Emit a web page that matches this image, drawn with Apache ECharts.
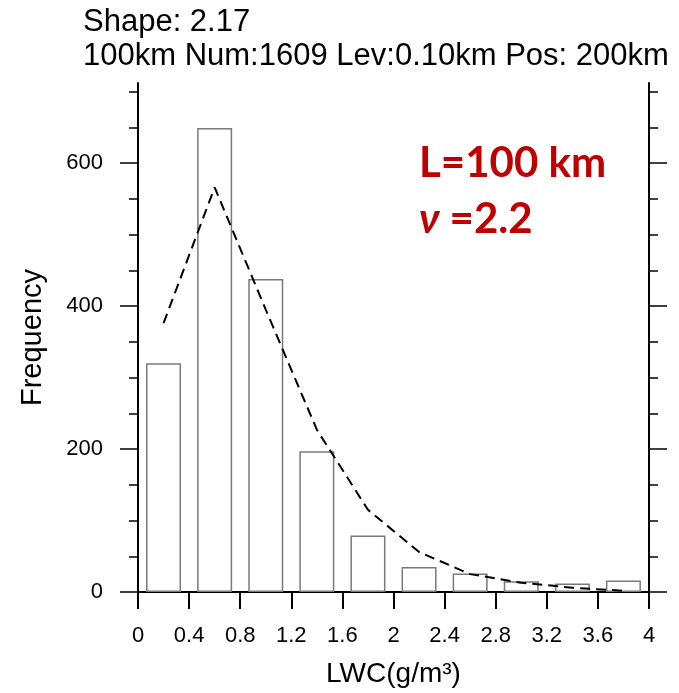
<!DOCTYPE html>
<html>
<head>
<meta charset="utf-8">
<script src="https://cdn.jsdelivr.net/npm/echarts@6/dist/echarts.min.js"></script>
<style>
html,body{margin:0;padding:0;background:#fff;}
#chart{width:679px;height:693px;}
</style>
</head>
<body>
<div id="chart"></div>
<script>
// ---- data ----
var binCenters = [0.2, 0.6, 1.0, 1.4, 1.8, 2.2, 2.6, 3.0, 3.4, 3.8];
var barCounts = [320, 649, 438, 197, 79, 35, 26, 15, 12, 16];
var fitValues = [376, 566, 395, 227, 115, 56, 25, 13, 6, 1.7];
var yMajorTicks = [0, 200, 400, 600];
var yMinorTicks = [0, 50, 100, 150, 200, 250, 300, 350, 400, 450, 500, 550, 600, 650, 700];
var titleLine1 = 'Shape: 2.17';
var titleLine2 = '100km Num:1609 Lev:0.10km Pos: 200km';
var noteLine1 = 'L=100 km';
var noteNu = 'ν';
var noteLine2 = ' =2.2';
var xName = 'LWC(g/m³)';
var yName = 'Frequency';

var barData = binCenters.map(function (x, i) { return [x, barCounts[i]]; });
var lineData = binCenters.map(function (x, i) { return [x, fitValues[i]]; });

var FONT = '"Liberation Sans", Arial, Helvetica, sans-serif';
var YMAX = 712;

function yAxisCfg(pos, ticks, len, showLine, showLabel) {
  var a = {
    type: 'value', position: pos, min: 0, max: YMAX, interval: 50,
    gridIndex: 0,
    axisLine: { show: showLine, lineStyle: { color: '#000', width: 2 } },
    axisTick: { show: true, inside: false, length: len, customValues: ticks, lineStyle: { color: '#000', width: 1.5 } },
    axisLabel: { show: showLabel },
    splitLine: { show: false }
  };
  if (showLabel) {
    a.axisLabel = { show: true, customValues: yMajorTicks, margin: 35, fontSize: 22, color: '#000', fontFamily: FONT };
    a.name = yName;
    a.nameLocation = 'middle';
    a.nameGap = 91;
    a.nameTextStyle = { fontSize: 29, color: '#000', fontFamily: FONT };
  }
  return a;
}

var chart = echarts.init(document.getElementById('chart'), null, { renderer: 'canvas' });
chart.setOption({
  backgroundColor: '#fff',
  animation: false,
  grid: { left: 138, top: 83, width: 511, height: 510, containLabel: false },
  xAxis: [
    {
      type: 'value', position: 'bottom', min: 0, max: 4, interval: 0.4,
      axisLine: { show: true, lineStyle: { color: '#000', width: 2 } },
      axisTick: { show: true, length: 17, lineStyle: { color: '#000', width: 2 } },
      axisLabel: { show: true, margin: 33, fontSize: 22, color: '#000', fontFamily: FONT },
      splitLine: { show: false },
      name: xName, nameLocation: 'middle', nameGap: 68,
      nameTextStyle: { fontSize: 28, color: '#000', fontFamily: FONT }
    },
    {
      type: 'value', position: 'top', min: 0, max: 4, interval: 0.4,
      axisLine: { show: true, lineStyle: { color: '#000', width: 2 } },
      axisTick: { show: false }, axisLabel: { show: false }, splitLine: { show: false }
    }
  ],
  yAxis: [
    yAxisCfg('left', yMinorTicks, 9, true, true),
    yAxisCfg('left', yMajorTicks, 18, false, false),
    yAxisCfg('right', yMinorTicks, 9, true, false),
    yAxisCfg('right', yMajorTicks, 18, false, false)
  ],
  series: [
    {
      type: 'bar', xAxisIndex: 0, yAxisIndex: 0,
      data: barData, barWidth: 35,
      itemStyle: { color: '#fff', borderColor: '#7a7a7a', borderWidth: 1.5 },
      silent: true, z: 2
    },
    {
      type: 'line', xAxisIndex: 0, yAxisIndex: 0,
      data: lineData, showSymbol: false, symbol: 'none',
      lineStyle: { color: '#000', width: 2, type: [10, 6] },
      z: 3
    }
  ],
  graphic: [
    { type: 'text', x: 83, y: 22, style: { text: titleLine1, font: '31px ' + FONT, fill: '#000', align: 'left', verticalAlign: 'middle' } },
    { type: 'text', x: 83, y: 56, style: { text: titleLine2, font: '31px ' + FONT, fill: '#000', align: 'left', verticalAlign: 'middle' } },
    { type: 'text', x: 419, y: 163, style: { text: noteLine1, font: 'bold 42px Lato, "Open Sans", sans-serif', fill: '#c00000', align: 'left', verticalAlign: 'middle' } },
    { type: 'text', x: 419, y: 219, style: { text: '{nu|' + noteNu + '}{r|' + noteLine2 + '}', align: 'left', verticalAlign: 'middle',
        rich: {
          nu: { font: 'italic bold 42px Lato, "Open Sans", sans-serif', fill: '#c00000' },
          r: { font: 'bold 42px Lato, "Open Sans", sans-serif', fill: '#c00000' }
        } } }
  ]
});
</script>
</body>
</html>
